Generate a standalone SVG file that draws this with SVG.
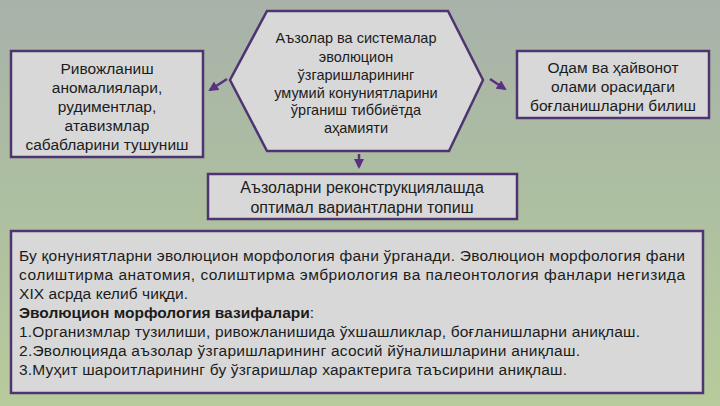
<svg xmlns="http://www.w3.org/2000/svg" width="720" height="406" viewBox="0 0 720 406">
<defs>
<linearGradient id="bg" x1="0" y1="0" x2="0" y2="1">
<stop offset="0" stop-color="#a8b2aa"/>
<stop offset="0.5" stop-color="#adbfa0"/>
<stop offset="1" stop-color="#b7cb9c"/>
</linearGradient>
<marker id="ah" viewBox="0 0 10 10" refX="8" refY="5" markerWidth="4" markerHeight="4" orient="auto">
<path d="M0,0 L10,5 L0,10 Z" fill="#5b2f82"/>
</marker>
<style>
.box{fill:#d8d8d8;stroke:#4f3472;stroke-width:2.5}
.t{font-family:"Liberation Sans",Arial,sans-serif;font-size:15.5px;fill:#1c1c1c;text-anchor:middle}
.h{font-size:14.5px}
.m{font-size:16px}
.p{font-family:"Liberation Sans",Arial,sans-serif;font-size:15.5px;fill:#1c1c1c}
.c{stroke:#5b2f82;stroke-width:2.5;fill:none;marker-end:url(#ah)}
</style>
</defs>
<rect width="720" height="406" fill="url(#bg)"/>
<g id="connectors">
<line class="c" x1="227" y1="79" x2="210" y2="90"/>
<line class="c" x1="490" y1="79" x2="505" y2="89"/>
<line class="c" x1="359" y1="154" x2="359" y2="167"/>
</g>
<g id="hub">
<polygon class="box" points="267,11 448,11 483,80 449,151 267,151 230,80"/>
<text class="t h"><tspan x="356" y="43">Аъзолар ва системалар</tspan><tspan x="356" y="62">эволюцион</tspan><tspan x="356" y="80">ўзгаришларининг</tspan><tspan x="356" y="98">умумий конуниятларини</tspan><tspan x="356" y="115">ўрганиш тиббиётда</tspan><tspan x="356" y="133">аҳамияти</tspan></text>
</g>
<g id="left">
<rect class="box" x="11" y="51" width="192" height="106"/>
<text class="t"><tspan x="107" y="74">Ривожланиш</tspan><tspan x="107" y="93">аномалиялари,</tspan><tspan x="107" y="112">рудиментлар,</tspan><tspan x="107" y="131">атавизмлар</tspan><tspan x="107" y="150">сабабларини тушуниш</tspan></text>
</g>
<g id="right">
<rect class="box" x="517" y="51" width="192" height="67"/>
<text class="t"><tspan x="613" y="73">Одам ва ҳайвонот</tspan><tspan x="613" y="92">олами орасидаги</tspan><tspan x="613" y="111">боғланишларни билиш</tspan></text>
</g>
<g id="bottom">
<rect class="box" x="208" y="174" width="309" height="45"/>
<text class="t m"><tspan x="362" y="193">Аъзоларни реконструкциялашда</tspan><tspan x="362" y="213">оптимал вариантларни топиш</tspan></text>
</g>
<g id="info">
<rect class="box" x="11" y="231" width="692" height="162"/>
<text class="p" x="19" y="261" textLength="666" lengthAdjust="spacing">Бу қонуниятларни эволюцион морфология фани ўрганади. Эволюцион морфология фани</text>
<text class="p" x="19" y="280" textLength="666" lengthAdjust="spacing">солиштирма анатомия, солиштирма эмбриология ва палеонтология фанлари негизида</text>
<text class="p" x="19" y="299" textLength="169" lengthAdjust="spacing">XIX асрда келиб чиқди.</text>
<text class="p" x="19" y="318"><tspan font-weight="bold">Эволюцион морфология вазифалари</tspan>:</text>
<text class="p" x="19" y="337" textLength="621" lengthAdjust="spacing">1.Организмлар тузилиши, ривожланишида ўхшашликлар, боғланишларни аниқлаш.</text>
<text class="p" x="19" y="356" textLength="561" lengthAdjust="spacing">2.Эволюцияда аъзолар ўзгаришларининг асосий йўналишларини аниқлаш.</text>
<text class="p" x="19" y="375" textLength="548" lengthAdjust="spacing">3.Муҳит шароитларининг бу ўзгаришлар характерига таъсирини аниқлаш.</text>
</g>
</svg>
